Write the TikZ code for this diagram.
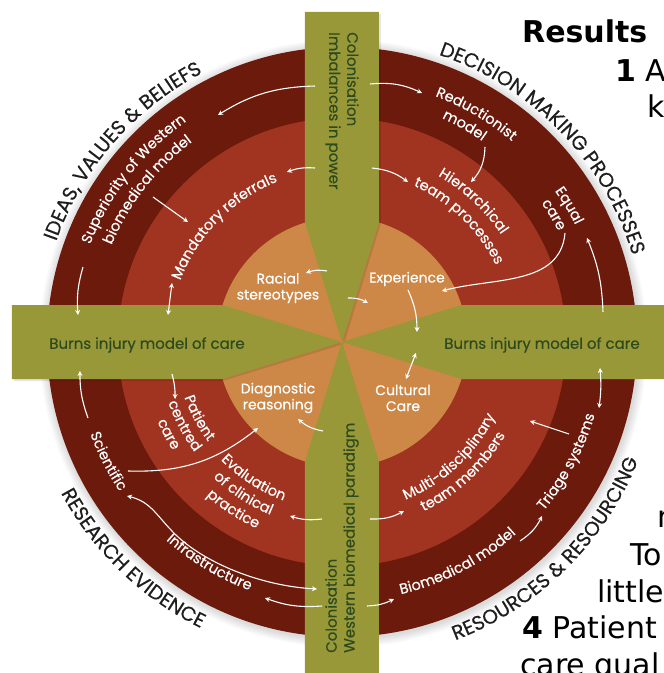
\documentclass[tikz,border=0pt]{standalone}
\usepackage{fontspec}
\setmainfont{Poppins}
\newfontfamily\slidefont{DejaVu Sans}
\newfontfamily\heavyfont{Poppins}[FakeBold=0.35]
\usetikzlibrary{arrows.meta,decorations.text}

\definecolor{barolive}{HTML}{989838}
\definecolor{ringdark}{HTML}{6C1A0C}
\definecolor{ringred}{HTML}{A03420}
\definecolor{ringcore}{HTML}{CD8746}
\definecolor{bartext}{HTML}{2D4A1F}
\definecolor{rimtext}{HTML}{1E1E1E}

\newcommand{\labfont}{\heavyfont\fontsize{14.5}{17}\selectfont\color{white}}
\newcommand{\rimfont}{\heavyfont\fontsize{20}{23}\selectfont\color{rimtext}}

% text set along an arc: radius, centre angle, half span, text
\newcommand{\cwtext}[4]{\path[decorate,decoration={text along path,text align=center,text={#4}}]
  ({#2+#3}:#1pt) arc[start angle={#2+#3},end angle={#2-#3},radius=#1pt];}
\newcommand{\ccwtext}[4]{\path[decorate,decoration={text along path,text align=center,text={#4}}]
  ({#2-#3}:#1pt) arc[start angle={#2-#3},end angle={#2+#3},radius=#1pt];}

\tikzset{
  flow/.style={white,line width=1.1pt,-{Stealth[length=5pt,width=5pt]}},
  flowboth/.style={white,line width=1.1pt,{Stealth[length=5pt,width=5pt]}-{Stealth[length=5pt,width=5pt]}},
  bartxt/.style={text=bartext,font=\heavyfont\fontsize{15}{18}\selectfont,inner sep=0pt},
  coretxt/.style={text=white,font=\heavyfont\fontsize{14}{16}\selectfont,inner sep=0pt,align=center},
  slidetxt/.style={text=black,font=\slidefont\fontsize{30}{36}\selectfont,inner sep=0pt,anchor=base west},
  barfill/.style={fill=barolive}
}

\begin{document}
\begin{tikzpicture}[x=1pt,y=1pt]
\useasboundingbox (-342,-331) rectangle (322,342);
\clip (-342,-331) rectangle (322,342);
\fill[white] (-342,-331) rectangle (322,342);

% slide text lying behind the wheel
\node[slidetxt] (results) at (180,299) {\bfseries Results};
\node[slidetxt] (itemone) at (273,261) {\textbf{1} A};
\node[slidetxt] (linek) at (305,225) {k};
\node[slidetxt] (linen) at (315,-185) {n};
\node[slidetxt] (lineto) at (288,-223) {To};
\node[slidetxt] (little) at (255,-260) {little};
\node[slidetxt] (itemfour) at (180,-296) {\textbf{4} Patient};
\node[slidetxt] (careq) at (178,-333) {care qual};

% soft shadow round the wheel
\foreach \k in {1,...,9}
  \fill[black,opacity=0.014] (1,-1.5) circle[radius={295pt+\k pt}];

% rings
\fill[ringdark] (0,0) circle[radius=295pt];
\fill[ringred] (0,0) circle[radius=224pt];
\fill[ringcore] (0,0) circle[radius=125pt];

% cross of bars, tapering to the centre
\begin{scope}[opacity=0.10]
\fill[black] (-35,328) -- (39,328) -- (39,119.4) -- (2,-2) -- (-35,119.4) -- cycle;
\fill[black] (-328,35) -- (-119.4,35) -- (2,-2) -- (-119.4,-39) -- (-328,-39) -- cycle;
\end{scope}
\fill[barfill] (-37,330) -- (37,330) -- (37,119.4) -- (0,0) -- (-37,119.4) -- cycle;
\fill[barfill] (-37,-345) -- (37,-345) -- (37,-119.4) -- (0,0) -- (-37,-119.4) -- cycle;
\fill[barfill] (-330,37) -- (-119.4,37) -- (0,0) -- (-119.4,-37) -- (-330,-37) -- cycle;
\fill[barfill] (345,37) -- (119.4,37) -- (0,0) -- (119.4,-37) -- (345,-37) -- cycle;

% bar labels
\node[bartxt,rotate=-90,anchor=west,align=left] (powerbar) at (0,310) {Colonisation\\Imbalances in power};
\node[bartxt,rotate=90,anchor=west,align=left] (paradigmbar) at (0,-311) {Colonisation\\Western biomedical paradigm};
\node[bartxt] (burnsleft) at (-195,-3) {Burns injury model of care};
\node[bartxt] (burnsright) at (200,-3) {Burns injury model of care};

% core labels
\node[coretxt] (racial) at (-64,54) {Racial\\stereotypes};
\node[coretxt] (experience) at (65,63) {Experience};
\node[coretxt] (diagnostic) at (-64,-56) {Diagnostic\\reasoning};
\node[coretxt] (cultural) at (61,-56) {Cultural\\Care};

% rim headings
\cwtext{303}{139}{42}{|\rimfont|IDEAS, VALUES {\&} BELIEFS}
\cwtext{303}{44}{45}{|\rimfont|DECISION MAKING PROCESSES}
\ccwtext{319}{226}{42}{|\rimfont|RESEARCH EVIDENCE}
\ccwtext{319}{314.5}{45}{|\rimfont|RESOURCES {\&} RESOURCING}

% outer ring labels
\cwtext{270}{142}{40}{|\labfont|Superiority of Western}
\cwtext{250}{142}{40}{|\labfont|biomedical model}
\cwtext{263}{59.5}{30}{|\labfont|Reductionist}
\cwtext{245}{60.5}{30}{|\labfont|model}
\cwtext{261}{31}{20}{|\labfont|Equal}
\cwtext{243}{31}{20}{|\labfont|care}
\ccwtext{268}{207}{30}{|\labfont|Scientific}
\ccwtext{265}{239}{30}{|\labfont|Infrastructure}
\ccwtext{259}{297.7}{30}{|\labfont|Biomedical model}
\ccwtext{263}{332}{30}{|\labfont|Triage systems}

% middle ring labels
\cwtext{173}{135.5}{50}{|\labfont|Mandatory referrals}
\cwtext{192}{47}{40}{|\labfont|Hierarchical}
\cwtext{172}{46}{45}{|\labfont|team processes}
\ccwtext{167}{208}{30}{|\labfont|Patient}
\ccwtext{184}{208}{30}{|\labfont|centred}
\ccwtext{201}{208}{30}{|\labfont|care}
\ccwtext{169}{237}{30}{|\labfont|Evaluation}
\ccwtext{187}{237}{30}{|\labfont|of clinical}
\ccwtext{205}{237}{30}{|\labfont|practice}
\ccwtext{170}{313}{40}{|\labfont|Multi-disciplinary}
\ccwtext{188}{313}{40}{|\labfont|team members}

% arrow end points
\coordinate (powA) at (-27,256);   \coordinate (supA) at (-124,227);
\coordinate (powB) at (-27,174);   \coordinate (mandA) at (-55,170);
\coordinate (powC) at (-15,71);    \coordinate (racA) at (-36,69);
\coordinate (supB) at (-189,145);  \coordinate (mandB) at (-154,120);
\coordinate (supC) at (-259,75);   \coordinate (burnL1) at (-264,27);
\coordinate (mandC) at (-170,59);  \coordinate (burnL2) at (-174,27);
\coordinate (powD) at (28,258);    \coordinate (redA) at (80,249);
\coordinate (powE) at (30,174);    \coordinate (hierA) at (66,160);
\coordinate (redB) at (143,195);   \coordinate (hierB) at (129,160);
\coordinate (eqA) at (223,109);    \coordinate (expA) at (100,51);
\coordinate (powF) at (6,44);      \coordinate (expB) at (26,39);
\coordinate (expC) at (66,52);     \coordinate (burnR1) at (75,10);
\coordinate (burnR2) at (261,30);  \coordinate (eqB) at (245,104);
\coordinate (cultA) at (74,-11);   \coordinate (cultB) at (64,-37);
\coordinate (sciA) at (-254,-76);  \coordinate (burnL3) at (-262,-29);
\coordinate (burnL4) at (-170,-32); \coordinate (patA) at (-167,-57);
\coordinate (sciB) at (-214,-129); \coordinate (diagA) at (-84,-86);
\coordinate (parA) at (-19,-89);   \coordinate (diagB) at (-44,-77);
\coordinate (parB) at (-20,-177);  \coordinate (evalA) at (-52,-174);
\coordinate (sciC) at (-215,-154); \coordinate (parC) at (-25,-247);
\coordinate (parD) at (-20,-264);  \coordinate (infA) at (-77,-256);
\coordinate (parE) at (28,-177);   \coordinate (multA) at (62,-169);
\coordinate (parF) at (25,-264);   \coordinate (bioA) at (52,-257);
\coordinate (bioB) at (178,-199);  \coordinate (triA) at (200,-174);
\coordinate (triB) at (227,-92);   \coordinate (multB) at (188,-79);
\coordinate (triC) at (257,-66);   \coordinate (burnR3) at (258,-26);

% arrows
\draw[flow] (powA) to[bend right=15] (supA);
\draw[flow] (powB) to[bend right=12] (mandA);
\draw[flow] (powC) to[bend right=15] (racA);
\draw[flow] (supB) -- (mandB);
\draw[flow] (supC) to[bend right=10] (burnL1);
\draw[flowboth] (mandC) -- (burnL2);
\draw[flow] (powD) to[bend left=15] (redA);
\draw[flow] (powE) to[bend left=15] (hierA);
\draw[flow] (redB) to[bend left=20] (hierB);
\draw[flow] (eqA) to[out=-95,in=15] (expA);
\draw[flow] (powF) to[bend left=15] (expB);
\draw[flow] (expC) to[bend left=12] (burnR1);
\draw[flow] (burnR2) to[bend right=10] (eqB);
\draw[flowboth] (cultA) -- (cultB);
\draw[flow] (sciA) to[bend left=10] (burnL3);
\draw[flow] (burnL4) to[bend left=8] (patA);
\draw[flow] (sciB) to[bend right=20] (diagA);
\draw[flow] (parA) to[bend left=15] (diagB);
\draw[flow] (parB) to[bend left=12] (evalA);
\draw[flowboth] (sciC) .. controls (-190,-160) and (-185,-175) .. (-165,-194)
  .. controls (-135,-222) and (-80,-244) .. (parC);
\draw[flow] (parD) to[bend left=12] (infA);
\draw[flow] (parE) to[bend right=15] (multA);
\draw[flow] (parF) to[bend right=12] (bioA);
\draw[flow] (bioB) to[bend right=15] (triA);
\draw[flow] (triB) -- (multB);
\draw[flowboth] (triC) to[bend right=6] (burnR3);
\end{tikzpicture}
\end{document}
